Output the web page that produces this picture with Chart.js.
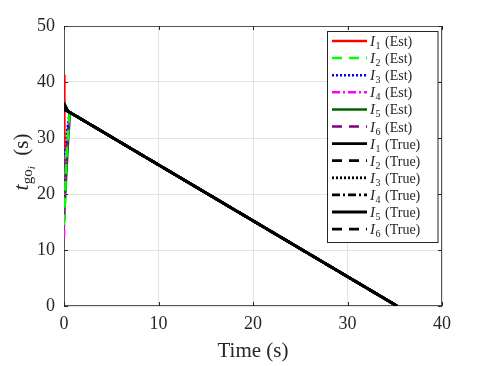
<!DOCTYPE html>
<html><head><meta charset="utf-8">
<script src="https://cdn.jsdelivr.net/npm/chart.js@4/dist/chart.umd.min.js"></script>
<style>html,body{margin:0;padding:0;background:#fff}#wrap{width:488px;height:366px;position:relative}</style>
</head><body><div id="wrap"><canvas id="c" width="488" height="366"></canvas></div>
<script>
// ---- data ----
const xTicks = [0, 10, 20, 30, 40];
const yTicks = [0, 10, 20, 30, 40, 50];
const seriesNames = ['I1 (Est)','I2 (Est)','I3 (Est)','I4 (Est)','I5 (Est)','I6 (Est)',
                     'I1 (True)','I2 (True)','I3 (True)','I4 (True)','I5 (True)','I6 (True)'];
// estimated time-to-go (time, value)
const est1T = [0, 0.02, 0.06, 0.4, 35.25];
const est1V = [41.3, 28, 35.2, 34.8, 0];
const est2T = [0, 0.3, 0.6, 35.25];
const est2V = [14.5, 28, 34.6, 0];
const est3T = [0, 0.3, 0.6, 35.25];
const est3V = [27, 31, 34.6, 0];
const est4T = [0, 0.05, 0.2, 0.4, 0.6, 35.25];
const est4V = [12.2, 18, 25, 30, 34.6, 0];
const est5T = [0, 0.2, 0.45, 0.65, 35.25];
const est5V = [15.2, 22, 30, 34.55, 0];
const est6T = [0, 0.1, 0.3, 0.6, 35.25];
const est6V = [21.5, 23, 29, 34.6, 0];
// true time-to-go
const trueT = [0, 0.4, 35.25];
const true1V = [36.3, 34.8, 0];
const true2V = [35.9, 34.8, 0];
const true3V = [35.5, 34.8, 0];
const true4V = [35.0, 34.8, 0];
const true5V = [36.0, 34.8, 0];
const true6V = [35.6, 34.8, 0];

const pts = (t, v) => t.map((x, i) => ({x, y: v[i]}));
const styles = [
  {c:'#ff0000', d:[], w:2.5},
  {c:'#00ff00', d:[10,7], w:2.5},
  {c:'#0000ff', d:[2,2], w:2.5},
  {c:'#ff00ff', d:[8,3,2,3], w:2.5},
  {c:'#006400', d:[], w:2.5},
  {c:'#800080', d:[10,7], w:2.5},
  {c:'#000000', d:[], w:2.8},
  {c:'#000000', d:[10,7], w:2.8},
  {c:'#000000', d:[2,2], w:2.8},
  {c:'#000000', d:[8,3,2,3], w:2.8},
  {c:'#000000', d:[], w:2.8},
  {c:'#000000', d:[10,7], w:2.8}
];
const dataSets = [
  pts(est1T, est1V), pts(est2T, est2V), pts(est3T, est3V),
  pts(est4T, est4V), pts(est5T, est5V), pts(est6T, est6V),
  pts(trueT, true1V), pts(trueT, true2V), pts(trueT, true3V),
  pts(trueT, true4V), pts(trueT, true5V), pts(trueT, true6V)
];
const datasets = dataSets.map((d, i) => ({
  label: seriesNames[i], data: d, borderColor: styles[i].c, borderDash: styles[i].d,
  borderWidth: styles[i].w, pointRadius: 0, fill: false, tension: 0,
  order: i < 6 ? 1 : 0
}));

const FONT = "'Liberation Serif', 'DejaVu Serif', serif";
const AX = '#262626';

const deco = {
  id: 'deco',
  beforeDatasetsDraw(chart) {
    const ctx = chart.ctx, a = chart.chartArea;
    const xs = chart.scales.x, ys = chart.scales.y;
    ctx.save();
    ctx.strokeStyle = '#555';
    ctx.lineWidth = 1;
    ctx.strokeRect(a.left + 0.5, a.top + 0.5, a.right - a.left - 1, a.bottom - a.top - 1);
    ctx.strokeStyle = AX;
    ctx.beginPath();
    xTicks.forEach(v => {
      const x = Math.round(xs.getPixelForValue(v)) + 0.5;
      ctx.moveTo(x, a.bottom); ctx.lineTo(x, a.bottom - 4);
      ctx.moveTo(x, a.top); ctx.lineTo(x, a.top + 4);
    });
    yTicks.forEach(v => {
      const y = Math.round(ys.getPixelForValue(v)) + 0.5;
      ctx.moveTo(a.left, y); ctx.lineTo(a.left + 4, y);
      ctx.moveTo(a.right, y); ctx.lineTo(a.right - 4, y);
    });
    ctx.stroke();
    ctx.restore();
  },
  afterDraw(chart) {
    const ctx = chart.ctx, a = chart.chartArea;
    ctx.save();
    // x title
    ctx.fillStyle = AX;
    ctx.font = '21px ' + FONT;
    ctx.textAlign = 'center'; ctx.textBaseline = 'middle';
    ctx.fillText('Time (s)', (a.left + a.right) / 2, 351);

    // y title: t_{go_i} (s)
    ctx.translate(21, 162);
    ctx.rotate(-Math.PI / 2);
    ctx.textBaseline = 'alphabetic';
    ctx.textAlign = 'left';
    const parts = [
      {t:'t', f:'italic 22px ' + FONT, dy:0},
      {t:'go', f:'15px ' + FONT, dy:4},
      {t:'i', f:'italic 11px ' + FONT, dy:7},
      {t:'  (s)', f:'21px ' + FONT, dy:0}
    ];
    let tw = 0;
    parts.forEach(p => { ctx.font = p.f; p.w = ctx.measureText(p.t).width; tw += p.w; });
    let px = -tw / 2;
    parts.forEach(p => { ctx.font = p.f; ctx.fillText(p.t, px, 7 + p.dy); px += p.w; });
    ctx.restore();

    // legend
    ctx.save();
    const lx = 327.5, ly = 31.5, lw = 110.5, lh = 211;
    ctx.fillStyle = '#fff';
    ctx.fillRect(lx, ly, lw, lh);
    ctx.strokeStyle = '#262626';
    ctx.lineWidth = 1;
    ctx.strokeRect(lx, ly, lw, lh);
    chart.data.datasets.forEach((ds, i) => {
      const y = 41 + i * 17.1;
      ctx.beginPath();
      ctx.setLineDash(ds.borderDash);
      ctx.strokeStyle = ds.borderColor;
      ctx.lineWidth = ds.borderWidth;
      ctx.moveTo(332, y); ctx.lineTo(367, y);
      ctx.stroke();
      ctx.setLineDash([]);
      ctx.fillStyle = AX;
      ctx.textBaseline = 'alphabetic'; ctx.textAlign = 'left';
      const name = ds.label;
      const num = name.charAt(1);
      const rest = name.slice(2);
      let x = 370;
      ctx.font = 'italic 15px ' + FONT;
      ctx.fillText('I', x, y + 5); x += ctx.measureText('I').width + 0.5;
      ctx.font = '10px ' + FONT;
      ctx.fillText(num, x, y + 8); x += ctx.measureText(num).width;
      ctx.font = '14px ' + FONT;
      ctx.fillText(rest, x + 1, y + 5);
    });
    ctx.restore();
  }
};

new Chart(document.getElementById('c'), {
  type: 'line',
  data: { datasets },
  options: {
    responsive: false, animation: false, devicePixelRatio: 1,
    layout: { padding: { left: 0, right: 46, top: 26, bottom: 0 } },
    plugins: { legend: { display: false }, tooltip: { enabled: false } },
    scales: {
      x: {
        type: 'linear', min: 0, max: 40,
        afterBuildTicks: s => { s.ticks = xTicks.map(v => ({value: v})); },
        afterFit: s => { s.height = 60; },
        grid: { color: '#e3e3e3', drawTicks: false },
        border: { display: false },
        ticks: { color: AX, font: { family: FONT, size: 18 }, padding: 7, maxRotation: 0 }
      },
      y: {
        type: 'linear', min: 0, max: 50,
        afterBuildTicks: s => { s.ticks = yTicks.map(v => ({value: v})); },
        afterFit: s => { s.width = 64; },
        grid: { color: '#e3e3e3', drawTicks: false },
        border: { display: false },
        ticks: { color: AX, font: { family: FONT, size: 18 }, padding: 9 }
      }
    }
  },
  plugins: [deco]
});
</script></body></html>
